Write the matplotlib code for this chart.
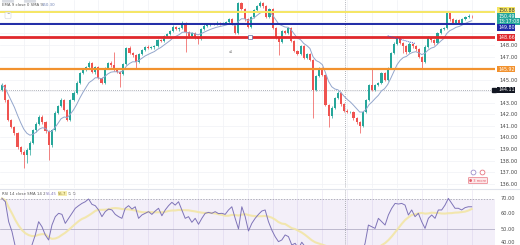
import numpy as np
import pandas as pd
import matplotlib
matplotlib.use("Agg")
from matplotlib import pyplot as plt
from matplotlib.patches import FancyBboxPatch

# ---- price data (hourly candles) ----
first_open = 144.10
closes = [144.54, 143.24, 141.51, 140.90, 140.38, 139.17, 138.74, 138.47, 138.91, 139.52,
          140.64, 141.16, 141.77, 141.33, 140.55, 139.34, 140.64, 142.11, 142.72, 143.24,
          142.37, 141.51, 143.24, 143.84, 144.71, 145.58, 145.84, 146.10, 146.44, 145.66,
          146.10, 145.14, 144.71, 146.01, 146.44, 146.27, 145.84, 145.66, 145.49, 146.35,
          147.74, 147.31, 147.13, 146.53, 147.22, 147.57, 147.83, 147.74, 147.83, 147.91,
          148.43, 148.35, 148.78, 148.95, 149.21, 149.56, 149.38, 149.47, 149.91, 149.13,
          148.78, 149.04, 148.69, 148.52, 149.38, 149.65, 149.73, 149.82, 149.82, 149.91,
          149.82, 149.91, 149.99, 150.25, 149.82, 149.04, 151.64, 151.12, 150.25, 149.56,
          150.42, 151.03, 151.38, 151.64, 151.38, 150.42, 151.12, 149.47, 148.61, 148.26,
          149.21, 149.04, 149.47, 148.35, 147.48, 147.22, 147.91, 146.87, 147.22, 146.70,
          144.10, 145.32, 146.01, 145.40, 142.81, 141.85, 142.55, 143.41, 143.84, 142.89,
          142.29, 142.20, 142.20, 141.68, 141.33, 140.99, 142.20, 143.24, 144.54, 144.10,
          144.54, 144.71, 145.58, 144.97, 146.01, 147.31, 148.09, 148.61, 148.17, 147.91,
          147.39, 148.09, 147.91, 147.65, 146.96, 146.53, 147.83, 148.61, 148.43, 148.17,
          149.04, 149.38, 149.47, 150.77, 150.25, 149.91, 150.16, 149.91, 150.25, 150.42,
          150.51, 150.49]
highs = [144.70, 144.62, 143.35, 141.60, 141.02, 140.45, 139.30, 138.90, 139.05, 139.66,
         140.75, 141.30, 141.90, 141.95, 141.45, 140.66, 140.75, 142.25, 142.85, 143.40,
         143.35, 142.48, 143.36, 143.98, 144.85, 145.70, 145.98, 146.22, 146.58, 146.55,
         146.22, 146.20, 145.25, 146.14, 146.56, 146.58, 147.40, 145.96, 145.78, 146.48,
         147.86, 147.88, 147.42, 147.24, 147.35, 147.70, 147.95, 147.96, 147.95, 148.04,
         148.56, 148.55, 148.90, 149.08, 149.34, 149.70, 149.68, 149.60, 150.06, 150.02,
         149.25, 149.16, 149.15, 148.80, 149.50, 149.78, 149.86, 149.95, 149.94, 150.04,
         150.02, 150.03, 150.12, 150.38, 150.36, 149.94, 151.72, 151.75, 151.22, 150.36,
         150.55, 151.15, 151.50, 151.78, 151.76, 151.48, 151.25, 151.22, 149.58, 148.72,
         149.34, 149.33, 149.60, 149.58, 148.46, 147.60, 148.04, 148.02, 147.35, 147.33,
         146.82, 145.44, 146.14, 146.12, 145.52, 142.92, 142.68, 143.54, 143.98, 143.95,
         143.00, 142.42, 142.32, 142.32, 141.80, 141.45, 142.32, 143.36, 144.66, 146.01,
         144.66, 144.84, 145.70, 145.70, 146.14, 147.44, 148.22, 148.74, 148.72, 148.28,
         148.02, 148.22, 148.20, 148.02, 147.76, 147.08, 147.96, 148.74, 148.72, 148.55,
         149.17, 149.50, 149.60, 150.90, 150.88, 150.36, 150.28, 150.28, 150.38, 150.55,
         150.70, 150.62]
lows = [143.98, 143.10, 141.40, 140.78, 140.20, 139.02, 138.60, 137.35, 137.78, 138.50,
        139.40, 140.50, 141.05, 141.20, 140.42, 138.04, 139.20, 140.52, 142.00, 142.60,
        142.25, 141.38, 141.40, 143.12, 143.72, 144.60, 145.45, 145.72, 145.98, 145.55,
        145.52, 145.02, 144.60, 144.60, 145.90, 146.14, 145.72, 145.54, 144.36, 145.38,
        146.24, 147.20, 147.00, 146.01, 146.42, 147.10, 147.45, 147.62, 147.62, 147.70,
        147.80, 148.22, 148.24, 148.66, 148.84, 149.10, 149.26, 149.25, 149.35, 147.40,
        148.66, 148.66, 148.56, 148.10, 148.40, 149.26, 149.54, 149.62, 149.70, 149.70,
        149.70, 149.71, 149.80, 149.88, 149.70, 148.92, 148.95, 151.00, 150.12, 149.44,
        149.45, 150.30, 150.92, 151.26, 151.25, 150.30, 150.30, 149.35, 148.50, 147.13,
        148.14, 148.92, 148.92, 148.22, 147.36, 147.10, 147.10, 146.75, 146.75, 146.58,
        141.68, 143.98, 145.20, 145.28, 142.68, 140.90, 141.72, 142.42, 143.30, 142.76,
        142.16, 142.08, 142.08, 141.55, 141.20, 140.38, 140.86, 142.08, 143.12, 143.98,
        143.98, 144.42, 144.60, 144.85, 144.85, 145.90, 147.20, 147.98, 148.05, 147.30,
        147.26, 147.28, 147.78, 147.52, 146.84, 146.01, 146.42, 147.72, 148.30, 148.04,
        148.06, 148.92, 149.26, 149.36, 150.12, 149.80, 149.80, 149.78, 149.80, 150.14,
        150.30, 150.38]

# ---- RSI 14 readings ----
rsi = [70.1, 67.9, 54.8, 48.3, 38.4, 33.9, 31.7, 32.8, 36.2, 39.5,
       46.1, 54.8, 51.5, 46.1, 42.8, 52.6, 58.1, 60.3, 59.6, 53.7,
       57.0, 60.3, 63.6, 65.3, 66.8, 67.9, 69.7, 66.2, 65.3, 62.5,
       58.1, 61.4, 63.1, 62.5, 59.6, 58.1, 57.0, 63.6, 65.3, 63.1,
       64.6, 57.0, 59.2, 60.3, 61.4, 59.6, 61.8, 63.6, 58.7, 62.5,
       65.3, 67.5, 65.7, 67.9, 62.5, 57.0, 58.1, 54.4, 57.0, 53.1,
       57.0, 60.3, 60.9, 60.3, 61.4, 60.1, 60.3, 59.6, 62.5, 64.6,
       57.0, 50.0, 64.6, 58.1, 48.7, 53.7, 57.0, 59.6, 61.8, 62.5,
       54.8, 49.3, 45.0, 41.7, 42.8, 46.1, 45.0, 39.5, 40.6, 37.3,
       41.3, 38.4, 37.3, 37.8, 36.2, 38.4, 35.1, 32.0, 30.0, 31.0,
       33.0, 34.0, 32.0, 30.0, 29.0, 28.0, 27.0, 31.0, 34.0, 40.6,
       52.6, 51.5, 50.4, 57.0, 54.8, 52.6, 59.2, 63.6, 66.8, 66.4,
       66.8, 65.7, 59.2, 62.5, 58.1, 60.3, 54.8, 50.4, 57.0, 59.2,
       57.0, 62.5, 62.5, 65.7, 70.1, 66.8, 63.6, 63.6, 62.5, 64.0,
       64.6, 64.6]

# ---- drawn levels ----
level_prices = [150.88, 149.80, 148.66, 145.92]
level_labels = ["150.88", "149.80", "148.66", "145.92"]
level_colors = ["#f5e663", "#1e2aa6", "#e0282c", "#f2922e"]
level_widths = [1.4, 1.4, 2.0, 1.6]
price_ticks = [136, 137, 138, 139, 140, 141, 142, 143, 145, 147, 148]
rsi_ticks = [70, 60, 50, 40]
last_label = "150.49"
countdown = "13:17:08"
prev_close = 144.11
session_break = 110.3
trend_x = [124, 133]
trend_y = [148.80, 148.12]
marker_x = 79.7

W, H = 520, 245
fig = plt.figure(figsize=(5.2, 2.45), dpi=100)
ax = fig.add_axes([0, 1 - 188 / H, 495 / W, 188 / H])
ax2 = fig.add_axes([0, 0, 495 / W, 55 / H])

n = len(closes)
idx = np.arange(n)
opens = np.array([first_open] + closes[:-1])
c = np.array(closes)
up = c >= opens
col = np.where(up, "#26a69a", "#ef5350")

# grid
for p in range(136, 152):
    ax.axhline(p, color="#f0f2f6", lw=0.5, zorder=0)
for gx in np.arange(7, 160, 8):
    ax.axvline(gx, color="#f0f2f6", lw=0.5, zorder=0)
    ax2.axvline(gx, color="#ebe8f4", lw=0.5, zorder=0)

# candles
ax.vlines(idx, lows, highs, colors=col, lw=0.5, zorder=2)
body = np.maximum(np.abs(c - opens), 0.03)
ax.bar(idx, body, bottom=np.minimum(c, opens), width=0.68, color=col, lw=0, zorder=3)

# EMA 9
ema = pd.Series(closes).ewm(span=9, adjust=False).mean()
ax.plot(idx, ema, color="#93a6cc", lw=0.7, zorder=4)

# levels
for p, lc, lw in zip(level_prices, level_colors, level_widths):
    ax.axhline(p, color=lc, lw=lw, zorder=5)
ax.axhline(prev_close, color="#9598a1", lw=0.6, ls=(0, (1, 1.5)), zorder=1)
ax.axvline(session_break, color="#9598a1", lw=0.6, ls=(0, (1, 1.5)), zorder=1)
ax2.axvline(session_break, color="#9598a1", lw=0.6, ls=(0, (1, 1.5)), zorder=1)
ax.plot(trend_x, trend_y, color="#3d4fc4", lw=0.7, ls=(0, (1, 1)), zorder=6)
ax.plot([marker_x], [level_prices[2]], marker="s", ms=2.6, mfc="white", mec="#5b6ea8", mew=0.5, zorder=7)
ax.text(marker_x - 6, 147.40, "a1", fontsize=2.5, color="#777", ha="center", va="center")

ax.set_xlim(-0.64, 158.5)
ax.set_ylim(135.62, 151.90)
ax.set_xticks([])
ax.yaxis.tick_right()
ax.set_yticks(price_ticks)
ax.set_yticklabels([f"{t:.2f}" for t in price_ticks])
ax.tick_params(axis="y", length=0, labelsize=3.8, colors="#4a4a4a", pad=3)
for s in ax.spines.values():
    s.set_visible(False)

# right-axis coloured labels
tr = ax.get_yaxis_transform()
def tag(y, txt, fc, tc="white", va="center"):
    ax.text(1.006, y, txt, transform=tr, fontsize=3.4, color=tc, ha="left", va=va,
            bbox=dict(boxstyle="square,pad=0.15", fc=fc, ec="none"), clip_on=False, zorder=10)

tag(151.00, level_labels[0], level_colors[0], "#333")
tag(150.47, last_label, "#26a69a")
tag(150.05, countdown, "#26a69a")
tag(149.52, level_labels[1], level_colors[1])
tag(level_prices[2], level_labels[2], level_colors[2])
tag(level_prices[3], level_labels[3], level_colors[3])
tag(prev_close, f"{prev_close:.2f}", "#131722")
ax.plot([0.998], [prev_close], transform=tr, marker="s", ms=3.2, color="#131722", clip_on=False, zorder=10)

# ---- RSI pane ----
rx = np.linspace(0, n - 1, len(rsi))
rsi_sma = pd.Series(rsi).rolling(14, min_periods=1).mean()
ax2.axhspan(30, 70, color="#7e57c2", alpha=0.09, lw=0, zorder=0)
ax2.axhline(70, color="#9598a1", lw=0.5, ls=(0, (2, 2)))
ax2.axhline(50, color="#a7a3bd", lw=0.5)
ax2.plot(rx, rsi_sma, color="#f2e6a6", lw=1.5, alpha=0.9, zorder=2)
ax2.plot(rx, rsi, color="#7f74b8", lw=0.7, zorder=3)
ax2.set_xlim(-0.64, 158.5)
ax2.set_ylim(39.5, 75.6)
ax2.set_xticks([])
ax2.set_yticks([])
tr2 = ax2.get_yaxis_transform()
for t in rsi_ticks:
    ax2.text(1.012, max(t, 41.3), f"{t:.2f}", transform=tr2, fontsize=3.6, color="#4a4a4a",
             ha="left", va="center", clip_on=False)
for s in ax2.spines.values():
    s.set_visible(False)

# pane separator
fig.add_artist(plt.Line2D([0, 1], [1 - 189.5 / H] * 2, color="#e0e3eb", lw=0.8))

# legends
def fx(x):
    return x / W
def fy(y):
    return 1 - y / H

fig.add_artist(FancyBboxPatch((fx(3), fy(2.2)), fx(10), 1.8 / H, boxstyle="round,pad=0.002",
                              fc="#d9dce3", ec="none"))
fig.add_artist(FancyBboxPatch((fx(25), fy(2.2)), fx(10), 1.8 / H, boxstyle="round,pad=0.002",
                              fc="#d9dce3", ec="none"))
fig.text(fx(2), fy(5.5), "EMA 9 close 0 SMA 9", fontsize=2.8, color="#555", va="center")
fig.text(fx(42), fy(5.5), "150.30", fontsize=2.8, color="#6f82b5", va="center")
fig.text(fx(8), fy(15.5), "^", fontsize=3, color="#555", ha="center", va="center",
         bbox=dict(boxstyle="round,pad=0.3", fc="white", ec="#d0d3da", lw=0.4))
fig.text(fx(2), fy(193.5), "RSI 14 close SMA 14 2", fontsize=2.8, color="#555", va="center")
fig.text(fx(46), fy(193.5), "55.45", fontsize=2.8, color="#7f74b8", va="center")
fig.text(fx(58), fy(193.5), "55.7", fontsize=2.8, color="#8a7a30", va="center",
         bbox=dict(boxstyle="square,pad=0.1", fc="#f6eeb0", ec="none"))
fig.text(fx(68), fy(193.5), "\u2205 \u2205", fontsize=2.8, color="#777", va="center")

# bottom-right badges
fig.add_artist(plt.Line2D([fx(473)], [fy(172)], marker="o", ms=3.5, mfc="white", mec="#8e7cc3", mew=0.5))
fig.add_artist(plt.Line2D([fx(482)], [fy(172)], marker="o", ms=3.5, mfc="white", mec="#e35d6a", mew=0.5))
fig.text(fx(478), fy(180.5), "\u25cf 3 more", fontsize=2.6, color="#e35d6a", ha="center", va="center",
         bbox=dict(boxstyle="round,pad=0.3", fc="#fde8ea", ec="#e35d6a", lw=0.4))

fig.savefig("out.png", dpi=100)
